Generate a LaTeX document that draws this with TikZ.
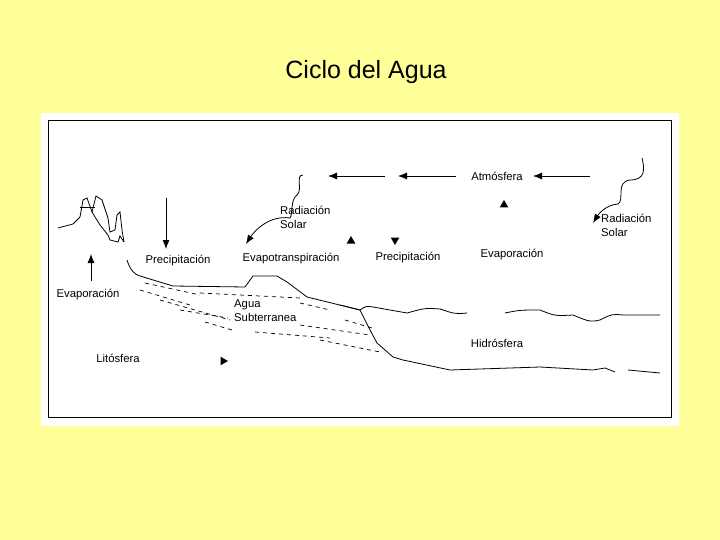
\documentclass[tikz,border=0pt]{standalone}
\usepackage{fontspec}
\setmainfont{Liberation Sans}
\begin{document}
\begin{tikzpicture}[x=1pt,y=-1pt,
  lbl/.style={font=\fontsize{11.3}{14}\selectfont,inner sep=0pt},
  arr/.style={-{Latex[length=9pt,width=7pt]},thick},
  tri/.style={fill=black,regular polygon,regular polygon sides=3,inner sep=0pt,minimum size=10pt},
  ln/.style={line width=0.8pt}]
\usetikzlibrary{arrows.meta,shapes.geometric}
\fill[fill={rgb,255:red,255;green,255;blue,153}] (0,0) rectangle (720,540);
\useasboundingbox (0,0) rectangle (720,540);
\fill[white] (41,113) rectangle (679,426);
\draw[black,line width=1pt] (48,121) rectangle (671,417);
\node[font=\fontsize{25}{30}\selectfont] (title) at (366,72) {Ciclo del Agua};
% labels
\node[lbl] (atm) at (497,176) {Atmósfera};
\node[lbl,anchor=west,align=left] (rs1) at (280,217) {Radiación\\Solar};
\node[lbl,anchor=west,align=left] (rs2) at (601,225) {Radiación\\Solar};
\node[lbl] (prec1) at (178,261) {Precipitación};
\node[lbl] (evt) at (291,259) {Evapotranspiración};
\node[lbl] (prec2) at (408,258) {Precipitación};
\node[lbl] (eva1) at (512,255) {Evaporación};
\node[lbl] (eva2) at (88,295) {Evaporación};
\node[lbl,anchor=west,align=left] (agua) at (234,311) {Agua\\Subterranea};
\node[lbl] (hid) at (497,343) {Hidrósfera};
\node[lbl] (lit) at (118,358) {Litósfera};
% arrows
\coordinate (a1s) at (590,176); \coordinate (a1e) at (533,176);
\coordinate (a2s) at (456,176); \coordinate (a2e) at (398,176);
\coordinate (a3s) at (385,176); \coordinate (a3e) at (328,176);
\draw[arr] (a1s) -- (a1e);
\draw[arr] (a2s) -- (a2e);
\draw[arr] (a3s) -- (a3e);
\coordinate (p1s) at (166,198); \coordinate (p1e) at (166,249);
\draw[arr] (p1s) -- (p1e);
\coordinate (e1s) at (91,281); \coordinate (e1e) at (91,254);
\draw[arr] (e1s) -- (e1e);
\node[tri] (t1) at (504,205) {};
\node[tri] (t2) at (351,241) {};
\node[tri,shape border rotate=180] (t3) at (395,240) {};
\node[tri,shape border rotate=-90] (t4) at (223,361) {};
% radiation squiggles
\draw[ln,-{Latex[length=9pt,width=7pt]}] (303,175) .. controls (295,175) and (303,190) .. (297,195)
  .. controls (290,200) and (293,215) .. (290,218) .. controls (270,215) and (255,230) .. (246,244);
\draw[ln,-{Latex[length=9pt,width=7pt]}] (642,158) .. controls (645,170) and (645,180) .. (630,180)
  .. controls (615,182) and (625,200) .. (618,204) .. controls (605,205) and (598,215) .. (593,223);
% mountains
\draw[ln] (58,228) -- (73,224) -- (80,217) -- (83,200) -- (87,198) -- (92,212) -- (100,225)
  -- (108,235) -- (110,240) -- (118,242) -- (120,236) -- (124,242);
\draw[ln] (80,207) -- (95,207);
\draw[ln] (92,212) -- (96,196) -- (102,200) -- (108,218) -- (110,232) -- (115,230) -- (117,215) -- (120,212) -- (122,230) -- (124,242);
% ground
\draw[ln] (127,260) .. controls (130,270) and (135,275) .. (140,276) -- (173,286) -- (245,287)
  -- (253,276) -- (277,276) -- (287,282) -- (307,297) -- (360,310) -- (370,330) -- (377,343)
  -- (393,357) -- (403,360) -- (450,370) -- (540,367) -- (593,370) -- (605,368) -- (615,372);
\draw[ln] (628,370) -- (660,373);
% water surface
\draw[ln] (340,305) .. controls (350,308) .. (360,310) .. controls (366,306) .. (373,307)
  .. controls (390,310) .. (407,313) .. controls (425,308) .. (440,309) .. controls (455,314) .. (467,313);
\draw[ln] (505,313) .. controls (520,310) .. (540,310) .. controls (555,316) .. (573,315)
  .. controls (590,322) .. (600,320) .. controls (612,314) .. (623,315) -- (660,315);
% groundwater dashes
\foreach \a/\b/\c/\d in {145/283/200/295, 140/290/190/305, 160/300/230/320, 205/322/232/330,
  200/293/300/298, 300/303/330/310, 255/332/330/338, 300/325/370/335,
  320/340/380/352, 345/320/372/328, 180/310/228/318}
  \draw[dash pattern=on 4pt off 4pt,line width=0.7pt] (\a,\b) -- (\c,\d);
\end{tikzpicture}
\end{document}
